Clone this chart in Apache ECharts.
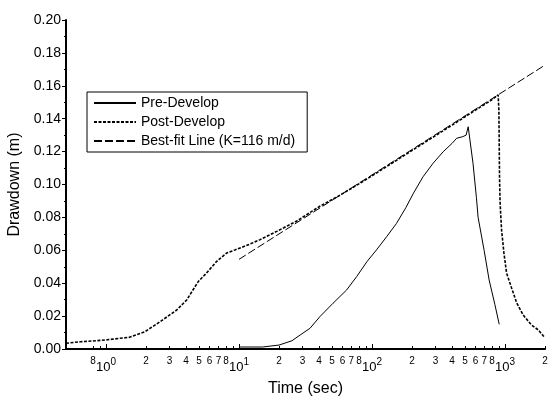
<!DOCTYPE html>
<html>
<head>
<meta charset="utf-8">
<style>
html,body{margin:0;padding:0;background:#fff;}
#c{width:549px;height:399px;}
</style>
<script src="https://cdn.jsdelivr.net/npm/echarts@6/dist/echarts.min.js"></script>
</head>
<body>
<div id="c"></div>
<script>
// ---- Data ----
var preT = [10, 15, 15.2, 20, 20.3, 25, 28.8, 34.2, 40.5, 50.9, 64.5, 76.7, 91.6, 108, 129, 153, 180, 205, 242, 288, 343, 400, 433, 482, 510, 529, 575, 610, 628, 697, 760, 840, 905];
var preV = [0.0012, 0.0012, 0.0024, 0.0024, 0.0035, 0.0050, 0.0085, 0.0126, 0.0196, 0.0278, 0.0359, 0.0440, 0.0531, 0.0602, 0.0683, 0.0764, 0.0860, 0.0947, 0.1047, 0.1129, 0.1199, 0.1250, 0.1281, 0.1291, 0.1300, 0.1351, 0.1129, 0.0920, 0.0800, 0.0600, 0.0420, 0.0270, 0.0150];

var postT = [0.5, 0.64, 0.8, 1.0, 1.27, 1.5, 1.96, 2.55, 3.4, 4.04, 4.94, 5.7, 6.8, 8.1, 9.3, 10.5, 12.1, 14.4, 19.2, 27.2, 40, 57.5, 86, 121, 162, 220, 300, 400, 520, 650, 780, 889, 900, 905, 910, 918, 925, 943, 982, 1028, 1122, 1225, 1370, 1580, 1780, 1940, 2000];
var postV = [0.0035, 0.0044, 0.0049, 0.0055, 0.0065, 0.0071, 0.0105, 0.0166, 0.0237, 0.0298, 0.0410, 0.0462, 0.0533, 0.0584, 0.0602, 0.0618, 0.0638, 0.0665, 0.0715, 0.0778, 0.0865, 0.0935, 0.1020, 0.1095, 0.1160, 0.1228, 0.1297, 0.1361, 0.1420, 0.1470, 0.1510, 0.1544, 0.1450, 0.1250, 0.1050, 0.0900, 0.0845, 0.0723, 0.0584, 0.0462, 0.0371, 0.0280, 0.0207, 0.0146, 0.0116, 0.0080, 0.0070];

var fitT = [10, 2000];
var fitV = [0.0545, 0.1726];

var seriesNames = ['Pre-Develop', 'Post-Develop', 'Best-fit Line (K=116 m/d)'];

// tick labels / positions of the log time axis
var xMin = 0.5, xMax = 2000;
var xMajorTicks = [1, 10, 100, 1000];
var xMinorTicks = [0.8, 0.9, 2, 3, 4, 5, 6, 7, 8, 9, 20, 30, 40, 50, 60, 70, 80, 90, 200, 300, 400, 500, 600, 700, 800, 900, 2000];
var xLabelTicks = [0.8, 1, 2, 3, 4, 5, 6, 7, 8, 10, 20, 30, 40, 50, 60, 70, 80, 100, 200, 300, 400, 500, 600, 700, 800, 1000, 2000];

function zip(a, b) { return a.map(function (v, i) { return [v, b[i]]; }); }
function lg(v) { return Math.log(v) / Math.LN10; }

var FONT = "'Liberation Sans', Arial, sans-serif";

var chart = echarts.init(document.getElementById('c'), null, {renderer: 'canvas'});

var helperBase = {
  type: 'value',
  min: lg(xMin),
  max: lg(xMax),
  position: 'bottom',
  axisLine: {show: false, onZero: false},
  splitLine: {show: false}
};

var option = {
  backgroundColor: '#fff',
  animation: false,
  textStyle: {fontFamily: FONT, color: '#000'},
  grid: {left: 66, right: 4, top: 20, bottom: 50, containLabel: false, outerBoundsMode: 'none'},
  legend: {
    orient: 'vertical',
    left: 87,
    top: 92,
    itemWidth: 42,
    itemHeight: 14,
    itemGap: 5,
    padding: [4, 12, 4, 6],
    borderColor: '#000',
    borderWidth: 1,
    itemStyle: {color: 'rgba(0,0,0,0)', borderWidth: 0, opacity: 0},
    lineStyle: {width: 2},
    textStyle: {fontSize: 14, color: '#000', fontFamily: FONT},
    data: seriesNames
  },
  xAxis: [
    {
      type: 'log',
      logBase: 10,
      min: xMin,
      max: xMax,
      position: 'bottom',
      name: 'Time (sec)',
      nameLocation: 'middle',
      nameGap: 32,
      nameTextStyle: {fontSize: 16, color: '#000', fontFamily: FONT},
      axisLine: {show: true, onZero: false, lineStyle: {color: '#000', width: 2}},
      axisTick: {show: false},
      axisLabel: {show: false},
      minorTick: {show: false},
      splitLine: {show: false},
      minorSplitLine: {show: false}
    },
    Object.assign({}, helperBase, {
      axisTick: {show: true, inside: true, length: 5, lineStyle: {color: '#000', width: 1},
        customValues: xMajorTicks.map(lg)},
      axisLabel: {
        show: true,
        margin: 7,
        hideOverlap: false,
        customValues: xLabelTicks.map(lg),
        formatter: function (val) {
          var e = Math.floor(val + 1e-9);
          var m = Math.round(Math.pow(10, val - e));
          if (m === 1) return '{b|10}{s|' + e + '}';
          return '{m|' + m + '}';
        },
        rich: {
          b: {fontSize: 13, fontFamily: FONT, color: '#000', padding: [5, 0, 0, 0]},
          s: {fontSize: 10, fontFamily: FONT, color: '#000', padding: [0, 0, 5, 0]},
          m: {fontSize: 10, fontFamily: FONT, color: '#000'}
        }
      }
    }),
    Object.assign({}, helperBase, {
      axisTick: {show: true, inside: true, length: 3, lineStyle: {color: '#000', width: 1},
        customValues: xMinorTicks.map(lg)},
      axisLabel: {show: false}
    })
  ],
  yAxis: {
    type: 'value',
    min: 0,
    max: 0.2,
    interval: 0.02,
    name: 'Drawdown (m)',
    nameLocation: 'middle',
    nameGap: 39,
    nameTextStyle: {fontSize: 16, color: '#000', fontFamily: FONT},
    axisLine: {show: true, onZero: false, lineStyle: {color: '#000', width: 2}},
    axisTick: {show: true, inside: false, length: 4, lineStyle: {color: '#000', width: 1}},
    minorTick: {show: true, splitNumber: 2, length: 2, lineStyle: {color: '#000', width: 1}},
    axisLabel: {
      fontSize: 14, color: '#000', fontFamily: FONT, margin: 5,
      formatter: function (v) { return v.toFixed(2); }
    },
    splitLine: {show: false}
  },
  series: [
    {
      name: seriesNames[0],
      type: 'line',
      xAxisIndex: 0,
      data: zip(preT, preV),
      symbol: 'none',
      lineStyle: {color: '#000', width: 1, type: 'solid'},
      itemStyle: {color: '#000'}
    },
    {
      name: seriesNames[1],
      type: 'line',
      xAxisIndex: 0,
      data: zip(postT, postV),
      symbol: 'none',
      lineStyle: {color: '#000', width: 1.6, type: [3, 1.5]},
      itemStyle: {color: '#000'}
    },
    {
      name: seriesNames[2],
      type: 'line',
      xAxisIndex: 0,
      data: zip(fitT, fitV),
      symbol: 'none',
      lineStyle: {color: '#000', width: 1, type: [8, 3]},
      itemStyle: {color: '#000'}
    }
  ]
};

chart.setOption(option);
</script>
</body>
</html>
